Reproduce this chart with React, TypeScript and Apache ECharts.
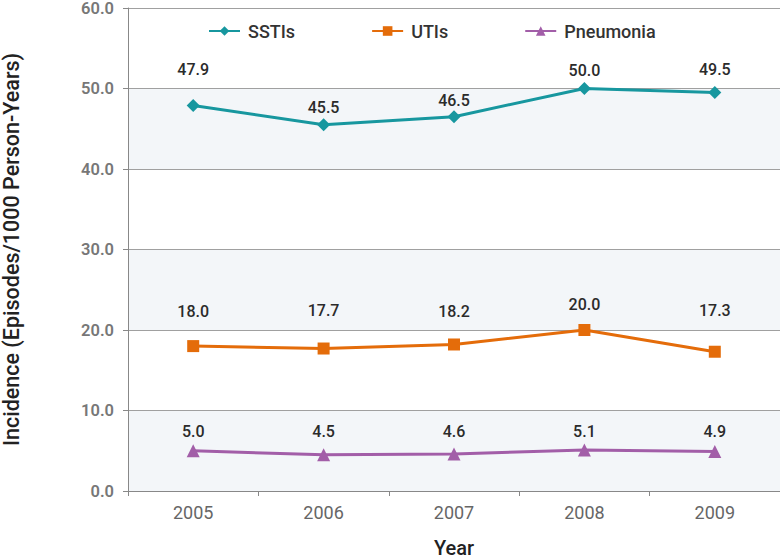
import React, { useEffect, useRef } from "react";
import * as echarts from "echarts";

const years = ["2005", "2006", "2007", "2008", "2009"];
const sstis = [47.9, 45.5, 46.5, 50.0, 49.5];
const utis = [18.0, 17.7, 18.2, 20.0, 17.3];
const pneumonia = [5.0, 4.5, 4.6, 5.1, 4.9];

// label distances (style only)
const sstiLabelGap = [21, 3, 2, 4, 9];
const utiLabelGap = [21, 24, 19, 12, 27];
const pneuLabelGap = [5, 9, 8, 4, 6];

const FONT = "Roboto";

function build(values: number[], gaps: number[]) {
  return values.map((v, i) => ({
    value: v,
    label: { distance: gaps[i] },
  }));
}

export default function App() {
  const ref = useRef<HTMLDivElement>(null);
  useEffect(() => {
    document.body.style.margin = "0";
    const chart = echarts.init(ref.current!, null, { renderer: "svg" });
    const labelStyle = {
      show: true,
      position: "top" as const,
      formatter: (p: any) => Number(p.value).toFixed(1),
      fontFamily: FONT,
      fontSize: 16,
      fontWeight: 500,
      color: "#2b2b2b",
    };
    chart.setOption({
      animation: false,
      textStyle: { fontFamily: FONT },
      legend: {
        top: 17,
        left: 203,
        itemGap: 76,
        itemWidth: 31,
        itemHeight: 12,
        textStyle: {
          fontFamily: FONT,
          fontSize: 18,
          fontWeight: 500,
          color: "#333",
          padding: [0, 0, 0, 3],
        },
        data: ["SSTIs", "UTIs", "Pneumonia"],
      },
      grid: { left: 128, right: 0, top: 8, bottom: 69, containLabel: false, outerBoundsMode: "none" },
      xAxis: {
        type: "category",
        data: years,
        boundaryGap: true,
        name: "Year",
        nameLocation: "middle",
        nameGap: 47,
        nameTextStyle: { fontFamily: FONT, fontSize: 20, lineHeight: 20, fontWeight: 500, color: "#222" },
        axisLine: { lineStyle: { color: "#888", width: 1 } },
        axisTick: { show: true, length: 5, alignWithLabel: false, lineStyle: { color: "#888" } },
        axisLabel: { fontFamily: FONT, fontSize: 18, color: "#666", margin: 12 },
      },
      yAxis: {
        type: "value",
        min: 0,
        max: 60,
        interval: 10,
        name: "Incidence (Episodes/1000 Person-Years)",
        nameLocation: "middle",
        nameGap: 106,
        nameTextStyle: { fontFamily: FONT, fontSize: 21.5, fontWeight: 500, color: "#222" },
        axisLine: { show: true, lineStyle: { color: "#888", width: 1 } },
        axisTick: { show: true, length: 5, lineStyle: { color: "#888" } },
        axisLabel: {
          fontFamily: FONT,
          fontSize: 16.5,
          lineHeight: 14,
          fontWeight: 600,
          color: "#777",
          margin: 14,
          formatter: (v: number) => v.toFixed(1),
        },
        splitLine: { show: true, lineStyle: { color: "#a0a0a0", width: 1 } },
        splitArea: { show: true, areaStyle: { color: ["#f3f6f9", "#ffffff"] } },
      },
      series: [
        {
          name: "SSTIs",
          type: "line",
          data: build(sstis, sstiLabelGap),
          symbol: "diamond",
          symbolSize: 13,
          lineStyle: { width: 3, color: "#17979f" },
          itemStyle: { color: "#17979f" },
          label: labelStyle,
        },
        {
          name: "UTIs",
          type: "line",
          data: build(utis, utiLabelGap),
          symbol: "rect",
          symbolSize: 12,
          lineStyle: { width: 3, color: "#e46c0a" },
          itemStyle: { color: "#e46c0a" },
          label: labelStyle,
        },
        {
          name: "Pneumonia",
          type: "line",
          data: build(pneumonia, pneuLabelGap),
          symbol: "triangle",
          symbolSize: 13,
          lineStyle: { width: 3, color: "#a25ea8" },
          itemStyle: { color: "#a25ea8" },
          label: labelStyle,
        },
      ],
    });
    return () => chart.dispose();
  }, []);
  return <div ref={ref} style={{ width: 780, height: 560 }} />;
}
